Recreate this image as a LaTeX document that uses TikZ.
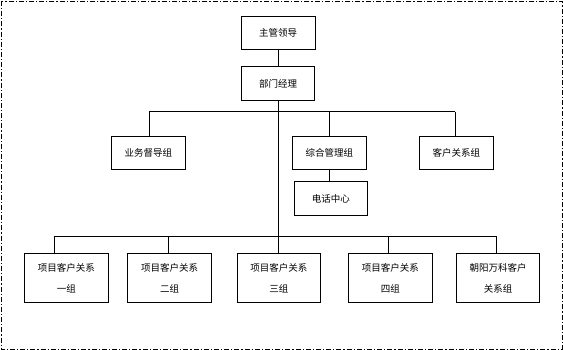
\documentclass[tikz,border=0pt]{standalone}
\usepackage{fontspec}
\setmainfont{Noto Sans CJK SC}
\begin{document}
\begin{tikzpicture}[x=1pt,y=-1pt,
  box/.style={draw,line width=0.9pt,inner sep=0pt,minimum height=33.5pt,font=\fontsize{9.5}{12}\selectfont},
  tall/.style={box,minimum height=49.5pt,align=center,font=\fontsize{9.5}{21}\selectfont},
  conn/.style={line width=0.9pt}]
\useasboundingbox (0,0) rectangle (563,350);
\draw[line width=0.8pt,dash pattern=on 5pt off 2pt on 1.2pt off 2pt] (1,1) rectangle (562,349);
\node[box,minimum width=74pt] (lead) at (278,33) {主管领导};
\node[box,minimum width=73.5pt] (mgr) at (278,83.7) {部门经理};
\node[box,minimum width=74pt] (sup) at (148.3,153.2) {业务督导组};
\node[box,minimum width=74pt] (gen) at (329.3,153.2) {综合管理组};
\node[box,minimum width=74pt] (cust) at (456.4,153.2) {客户关系组};
\node[box,minimum width=73pt] (call) at (330.8,198.5) {电话中心};
\node[tall,minimum width=84pt] (b1) at (66.4,278.1) {项目客户关系\\一组};
\node[tall,minimum width=84pt] (b2) at (169.5,278.1) {项目客户关系\\二组};
\node[tall,minimum width=83pt] (b3) at (278.8,278.1) {项目客户关系\\三组};
\node[tall,minimum width=84pt] (b4) at (390.3,278.1) {项目客户关系\\四组};
\node[tall,minimum width=83.3pt] (b5) at (498,278.1) {朝阳万科客户\\关系组};
% top bus
\coordinate (t1) at (149.4,111.7);
\coordinate (tm) at (278.3,111.7);
\coordinate (t2) at (329.3,111.7);
\coordinate (t3) at (455.3,111.7);
% bottom bus
\coordinate (d1) at (54.2,236.1);
\coordinate (d2) at (168.4,236.1);
\coordinate (d3) at (278.3,236.1);
\coordinate (d4) at (388.5,236.1);
\coordinate (d5) at (496.2,236.1);
\draw[conn] (lead) -- (mgr);
\draw[conn] (mgr.south -| tm) -- (d3);
\draw[conn] (t1) -- (t3);
\draw[conn] (t1) -- (t1 |- sup.north);
\draw[conn] (t2) -- (t2 |- gen.north);
\draw[conn] (t3) -- (t3 |- cust.north);
\draw[conn] (gen.south -| t2) -- (t2 |- call.north);
\draw[conn] (d1) -- (d5);
\draw[conn] (d1) -- (d1 |- b1.north);
\draw[conn] (d2) -- (d2 |- b2.north);
\draw[conn] (d3) -- (d3 |- b3.north);
\draw[conn] (d4) -- (d4 |- b4.north);
\draw[conn] (d5) -- (d5 |- b5.north);
\end{tikzpicture}
\end{document}
